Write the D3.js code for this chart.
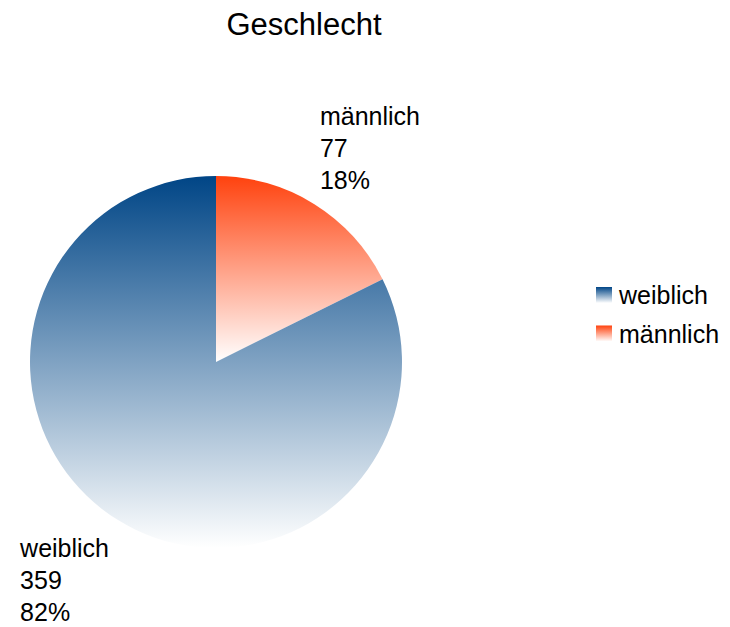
<!DOCTYPE html>
<html>
<head>
<meta charset="utf-8">
<script src="https://cdn.jsdelivr.net/npm/d3@7"></script>
<style>
  body { margin: 0; background: #fff; }
  text { font-family: "Liberation Sans", Arial, sans-serif; fill: #000; }
</style>
</head>
<body>
<div id="chart"></div>
<script>
// dati del grafico
var categories = ["weiblich", "männlich"];
var values = [359, 77];
var percents = ["82%", "18%"];
var colors = ["#004586", "#ff420e"];

var width = 730, height = 627;
var cx = 216, cy = 362, radius = 186;

var svg = d3.select("#chart").append("svg")
  .attr("width", width)
  .attr("height", height);

var defs = svg.append("defs");
colors.forEach(function (c, i) {
  var g = defs.append("linearGradient")
    .attr("id", "grad" + i)
    .attr("x1", 0).attr("y1", 0).attr("x2", 0).attr("y2", 1);
  g.append("stop").attr("offset", "0%").attr("stop-color", c);
  g.append("stop").attr("offset", "100%").attr("stop-color", "#ffffff");
});

svg.append("text")
  .attr("x", 304)
  .attr("y", 35)
  .attr("text-anchor", "middle")
  .attr("font-size", "31px")
  .text("Geschlecht");

var data = categories.map(function (c, i) {
  return { name: c, value: values[i], pct: percents[i], idx: i };
});

// männlich parte da ore 12 in senso orario
var pie = d3.pie().sort(null).value(function (d) { return d.value; });
var arcs = pie(data.slice().reverse());
var arc = d3.arc().innerRadius(0).outerRadius(radius);

var g = svg.append("g").attr("transform", "translate(" + cx + "," + cy + ")");

g.selectAll("path")
  .data(arcs)
  .enter()
  .append("path")
  .attr("d", arc)
  .attr("fill", function (d) { return "url(#grad" + d.data.idx + ")"; });

// etichette (testo allineato a sinistra, blocco posizionato vicino al bordo)
var lineH = 32;
arcs.forEach(function (d) {
  var mid = (d.startAngle + d.endAngle) / 2;
  var px = cx + radius * Math.sin(mid);
  var py = cy - radius * Math.cos(mid);
  var right = Math.sin(mid) >= 0;
  var top = Math.cos(mid) >= 0;
  var lines = [d.data.name, String(d.data.value), d.data.pct];
  var y0 = top ? py - 15 - lineH * 2 : py + 37;
  var t = svg.append("text").attr("font-size", "25px");
  var spans = lines.map(function (l, k) {
    return t.append("tspan").attr("y", y0 + k * lineH).text(l);
  });
  var w = d3.max(spans, function (s) { return s.node().getComputedTextLength(); });
  var x = right ? px + 6 : px - 9 - w;
  spans.forEach(function (s) { s.attr("x", x); });
});

// legenda
var legend = svg.append("g").attr("transform", "translate(596,287)");
data.forEach(function (d, i) {
  legend.append("rect")
    .attr("x", 0).attr("y", i * 38.5)
    .attr("width", 16).attr("height", 16)
    .attr("fill", "url(#grad" + i + ")");
  legend.append("text")
    .attr("x", 23).attr("y", i * 38.5 + 17)
    .attr("font-size", "25px")
    .text(d.name);
});
</script>
</body>
</html>
